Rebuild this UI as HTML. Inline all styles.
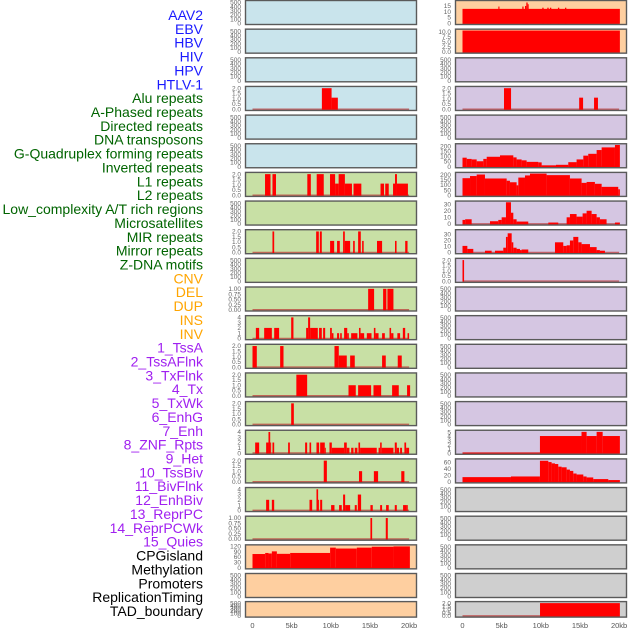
<!DOCTYPE html>
<html><head><meta charset="utf-8"><style>
html,body{margin:0;padding:0;background:#fff;}
svg{display:block;font-family:"Liberation Sans",sans-serif;}
</style></head><body>
<svg id="chart" width="630" height="630" viewBox="0 0 630 630" xmlns="http://www.w3.org/2000/svg">
<g id="labels"></g>
<g id="panels"></g>
<g id="xaxes"></g>
</svg>
<script>
// ---- track labels ----
const labelNames = ["AAV2","EBV","HBV","HIV","HPV","HTLV-1","Alu repeats","A-Phased repeats","Directed repeats","DNA transposons","G-Quadruplex forming repeats","Inverted repeats","L1 repeats","L2 repeats","Low_complexity A/T rich regions","Microsatellites","MIR repeats","Mirror repeats","Z-DNA motifs","CNV","DEL","DUP","INS","INV","1_TssA","2_TssAFlnk","3_TxFlnk","4_Tx","5_TxWk","6_EnhG","7_Enh","8_ZNF_Rpts","9_Het","10_TssBiv","11_BivFlnk","12_EnhBiv","13_ReprPC","14_ReprPCWk","15_Quies","CPGisland","Methylation","Promoters","ReplicationTiming","TAD_boundary"];
const labelGroups = ["v","v","v","v","v","v","r","r","r","r","r","r","r","r","r","r","r","r","r","c","c","c","c","c","h","h","h","h","h","h","h","h","h","h","h","h","h","h","h","o","o","o","o","o"];

// ---- x axis ----
const xTickValues = [0,5,10,15,20];
const xTickLabels = ["0","5kb","10kb","15kb","20kb"];

// ---- left track data: [startKb, endKb, value] ----
const aluLeft = [[8.86,10.1,2],[10.1,10.9,1.1]];
const l1Left = [[1.6,2.3,2],[2.55,3.0,2],[7.0,7.45,2],[8.2,9.1,2],[9.9,10.55,2],[10.55,11.0,1.1],[11.0,11.8,2],[11.8,12.7,1.1],[12.9,13.9,1.1],[16.35,16.8,1.1],[16.95,17.4,1.1],[17.95,18.2,1.1],[18.2,18.45,2],[18.45,19.85,1.1]];
const mirLeft = [[2.55,2.77,2],[8.13,8.47,2],[8.6,8.85,2],[9.91,10.43,1.1],[10.8,11.15,1.1],[11.57,11.79,2],[11.79,12.47,1.1],[12.85,13.06,1.1],[13.49,13.83,2],[14.0,14.2,1.1],[15.9,16.55,1.1],[18.2,18.4,1.1],[19.5,19.8,1.1]];
const delLeft = [[14.77,15.53,1],[16.68,17.1,1],[17.23,18.0,1]];
const insLeft = [[0.43,0.85,2],[1.49,2.47,2],[2.77,3.4,2],[4.94,5.23,4],[6.85,7.1,2],[7.1,7.36,4],[7.36,8.34,2],[8.5,8.85,2],[9.02,9.28,2],[9.91,10.13,2],[10.13,10.34,1],[10.8,11.06,1],[11.2,11.4,1],[11.7,12.1,2],[12.1,12.3,1],[12.6,13.4,1],[13.6,13.8,2],[13.8,14.26,1],[14.6,15.2,1],[15.5,15.7,2],[15.7,16.1,1],[16.55,16.9,1],[17.5,17.7,2],[17.7,18.0,1],[18.5,18.85,1],[19.2,19.5,2],[19.8,20.0,1]];
const tssALeft = [[0,0.55,2],[3.53,3.96,2],[10.47,11.02,2],[11.02,12.04,1.1],[12.47,13.06,1.1],[16.55,17.02,1.1],[18.55,19.06,1.1]];
const tssAFlnkLeft = [[5.6,6.98,2],[12.26,13.19,1],[13.49,15.15,1],[15.45,16.43,1],[17.83,18.68,1],[19.74,20.13,1]];
const txFlnkLeft = [[4.94,5.28,2]];
const txLeft = [[0.34,0.85,2],[1.74,2.04,2],[2.04,2.26,4],[2.26,2.38,2],[2.55,2.77,2],[4.55,4.77,2],[6.72,6.98,2],[7.28,7.49,2],[8.17,8.51,2],[8.64,9.23,2],[9.23,9.36,1],[9.83,10.13,2],[10.13,11.7,1],[11.7,12.04,2],[12.04,12.38,1],[12.6,12.9,1],[13.06,13.4,1],[13.53,13.74,2],[13.74,15.87,1],[16.3,16.5,2],[16.1,16.3,1],[16.5,18.0,1],[18.17,18.43,2],[18.43,18.72,1],[18.85,19.1,1],[19.4,19.62,2],[19.62,20.0,1]];
const txWkLeft = [[9.1,9.5,2],[13.6,14.0,1],[15.5,16.04,1],[19.0,19.4,1]];
const enhGLeft = [[1.74,2.13,2],[2.47,2.77,2],[7.28,7.62,2],[8.17,8.38,4],[8.38,8.5,2],[8.64,8.9,2],[10.04,10.47,1],[11.06,11.4,1],[11.57,11.83,3],[11.83,12.47,1],[13.06,13.32,1],[13.45,13.87,3],[15.06,15.36,1],[16.3,16.55,1],[17.06,17.4,1],[18.17,18.43,1],[19.23,19.62,1],[19.62,19.83,1]];
const enhLeft = [[15.06,15.28,1],[17.02,17.28,1]];
const cpgLeft = [[0,1.62,77],[1.62,2.04,83],[2.04,2.47,80],[2.47,3.11,92],[3.11,4.81,78],[4.81,9.91,83],[9.91,10.64,113],[10.64,13.32,108],[13.32,15.23,113],[15.23,18.0,118],[18.0,20.1,120]];

// ---- right track data ----
const aav2Right = [[0,20.1,12.5],[4.58,4.72,14.5],[7.64,7.8,14.5],[7.98,8.15,15],[8.15,8.32,18],[8.32,8.45,16.5],[10.19,10.36,13.5],[10.83,11.0,13.5],[11.17,11.34,13.5],[12.19,12.36,13.5],[13.09,13.26,13.5]];
const ebvRight = [[0,20.1,10.6]];
const aluRight = [[5.3,6.2,2],[14.9,15.4,1.1],[16.8,17.3,1.1]];
const g4Right = [[0,0.54,87],[0.54,1.17,75],[1.17,1.81,70],[1.81,2.66,52],[2.66,3.09,75],[3.09,4.79,96],[4.79,6.49,110],[6.49,6.91,90],[6.91,7.55,70],[7.55,8.19,61],[8.19,9.68,46],[9.68,10.11,41],[10.11,11.94,12],[11.94,13.51,17],[13.51,14.57,43],[14.57,15.43,70],[15.43,16.06,107],[16.06,17.13,125],[17.13,17.77,162],[17.77,19.47,188],[19.47,20.1,212]];
const l1Right = [[0,0.96,167],[0.96,1.81,188],[1.81,2.87,203],[2.87,5.64,164],[5.64,6.06,142],[6.06,6.91,127],[6.91,7.13,97],[7.13,7.98,173],[7.98,8.62,194],[8.62,10.74,212],[10.74,13.72,197],[13.72,15.21,164],[15.21,15.85,121],[15.85,16.91,130],[16.91,17.77,112],[17.77,19.89,82],[19.89,20.1,58]];
const lowCompRight = [[0,0.34,6],[0.34,1.17,7],[3.51,4.57,4],[4.57,5.0,6],[5.0,5.55,10],[5.55,6.19,33],[6.19,6.49,17],[6.49,6.91,7],[6.91,8.4,3.5],[10.96,12.23,2],[13.3,13.72,10],[13.72,14.57,15],[14.57,15.34,11],[15.34,15.85,16],[15.85,16.49,20],[16.49,17.13,15],[17.13,17.55,10],[17.55,18.4,7],[19.47,20.1,2]];
const microRight = [[0,0.62,11],[0.62,1.38,6],[2.87,3.72,3],[4.15,5.21,3],[5.21,5.55,8],[5.55,5.77,26],[5.77,6.28,32],[6.28,6.49,17],[6.49,6.91,8],[6.91,7.34,6],[7.34,7.55,4],[7.55,8.4,5],[11.81,12.87,17],[12.87,13.3,11],[13.3,13.72,12],[13.72,14.15,20],[14.15,14.79,26],[14.79,15.21,17],[15.21,16.28,14],[16.28,17.13,9],[17.13,17.55,4],[17.55,18.19,3]];
const spikeRight = [[0,0.2,2]];
const znfRight = [[0,9.89,0.1],[9.89,15.2,4.1],[15.2,15.85,5.1],[15.85,17.13,4.1],[17.13,17.9,5.1],[17.9,20.1,4.1]];
const hetRight = [[0,6.19,14],[6.19,9.89,16],[9.89,10.96,64],[10.96,11.38,60],[11.38,11.81,56],[11.81,12.23,54],[12.23,12.66,46],[12.66,13.3,44],[13.3,13.72,37],[13.72,14.15,33],[14.15,14.57,25],[14.57,15.43,22],[15.43,15.85,16],[15.85,16.7,13],[16.7,18.62,8],[18.62,20.1,5]];
const tadRight = [[9.9,20.1,2]];

// ---- axis tick sets ----
const ticksEmpty = [0,100,200,300,400,500];
const ticks2 = [0,0.5,1,1.5,2];
const ticks4 = [0,1,2,3,4];
const ticks1 = [0,0.25,0.5,0.75,1];
const ticksCpg = [0,30,60,90,120];
const ticksAav = [0,5,10,15];
const ticksEbv = [0,2.5,5,7.5,10];
const ticksG4 = [0,50,100,150,200];
const ticksLow = [0,10,20,30];
const ticksZnf = [0,1,2,3,4,5];
const ticksHet = [0,20,40,60];

const E = null;
// left panels: [data, max, ticks, decimals]
const leftPanels = [
 [E,520,ticksEmpty,0],[E,520,ticksEmpty,0],[E,520,ticksEmpty,0],[aluLeft,2.05,ticks2,1],[E,520,ticksEmpty,0],[E,520,ticksEmpty,0],
 [l1Left,2.05,ticks2,1],[E,520,ticksEmpty,0],[mirLeft,2.05,ticks2,1],[E,520,ticksEmpty,0],[delLeft,1.03,ticks1,2],
 [insLeft,4.1,ticks4,0],[tssALeft,2.05,ticks2,1],[tssAFlnkLeft,2.05,ticks2,1],[txFlnkLeft,2.05,ticks2,1],[txLeft,4.1,ticks4,0],
 [txWkLeft,2.05,ticks2,1],[enhGLeft,4.1,ticks4,0],[enhLeft,1.03,ticks1,2],[cpgLeft,122,ticksCpg,0],[E,520,ticksEmpty,0],[E,520,ticksEmpty,0]
];
const rightPanels = [
 [aav2Right,18.7,ticksAav,0],[ebvRight,10.7,ticksEbv,1],[E,520,ticksEmpty,0],[aluRight,2.05,ticks2,1],[E,520,ticksEmpty,0],[g4Right,212,ticksG4,0],
 [l1Right,212,ticksG4,0],[lowCompRight,33,ticksLow,0],[microRight,36,ticksLow,0],[spikeRight,2.05,ticks2,1],[E,520,ticksEmpty,0],
 [E,520,ticksEmpty,0],[E,520,ticksEmpty,0],[E,520,ticksEmpty,0],[E,520,ticksEmpty,0],[znfRight,5.2,ticksZnf,0],
 [hetRight,66,ticksHet,0],[E,520,ticksEmpty,0],[E,520,ticksEmpty,0],[E,520,ticksEmpty,0],[E,520,ticksEmpty,0],[tadRight,2.05,ticks2,1]
];
const leftBg = ["#c9e4ec","#c9e4ec","#c9e4ec","#c9e4ec","#c9e4ec","#c9e4ec","#c8e0a5","#c8e0a5","#c8e0a5","#c8e0a5","#c8e0a5","#c8e0a5","#c8e0a5","#c8e0a5","#c8e0a5","#c8e0a5","#c8e0a5","#c8e0a5","#c8e0a5","#fecfa0","#fecfa0","#fecfa0"];
const rightBg = ["#fecfa0","#fecfa0","#d5c6e2","#d5c6e2","#d5c6e2","#d5c6e2","#d5c6e2","#d5c6e2","#d5c6e2","#d5c6e2","#d5c6e2","#d5c6e2","#d5c6e2","#d5c6e2","#d5c6e2","#d5c6e2","#d5c6e2","#cfcfcf","#cfcfcf","#cfcfcf","#cfcfcf","#cfcfcf"];

const NS = "http://www.w3.org/2000/svg";
function mk(tag, attrs, parent){const e=document.createElementNS(NS,tag);for(const k in attrs)e.setAttribute(k,attrs[k]);parent.appendChild(e);return e;}
const groupColor = {v:"#1a1aff",r:"#006400",c:"#ffa500",h:"#a020f0",o:"#000000"};

const labelsG = document.getElementById("labels");
labelNames.forEach((name,i)=>{
  const t = mk("text",{x:203,y:20+i*13.86,"text-anchor":"end","font-size":"14",fill:groupColor[labelGroups[i]]},labelsG);
  
  
  t.textContent = name;
});

const PANEL = {left:{x0:245.5,x1:416.5,d0:252.5},right:{x0:455.5,x1:626.5,d0:462.5}};
const KBPX = 7.83;
function rowTop(i){return i<21 ? i*28.65+0.5 : 601.6;}
function rowH(i){return i<21 ? 24 : 15.5;}

const panelsG = document.getElementById("panels");
function drawPanel(side, i, cfg, bg){
  const P = PANEL[side];
  const top=rowTop(i), h=rowH(i), bottom=top+h;
  const g = mk("g",{},panelsG);
  
  
  const r = mk("rect",{x:P.x0,y:top,width:P.x1-P.x0,height:h,fill:bg,stroke:"none"},g);
  
  
  const [data,max,ticks,dec] = cfg;
  const y0 = bottom-1.2, yr = h-2.4;
  const yOf = v => y0 - v/max*yr;
  const xOf = kb => P.d0 + kb*KBPX;
  ticks.forEach(tv=>{
    const t = mk("text",{x:P.x0-4.5,y:yOf(tv)+2.2,"text-anchor":"end","font-size":"6.5",fill:"#666"},g);
    
    
    t.textContent = tv.toFixed(dec);
  });
  if(data){
    const bl = mk("line",{x1:xOf(0),x2:xOf(20),y1:y0,y2:y0,stroke:"#b33",
      "stroke-width":1.5,"stroke-opacity":0.7},g);
    
    
    data.forEach(s=>{
      const x=xOf(s[0]), w=(s[1]-s[0])*KBPX, y=yOf(Math.min(s[2],max));
      const b = mk("rect",{x:x,y:y,width:Math.max(w,0.8),height:y0-y+0.6,fill:"#ff0000"},g);
      
      
    });
  }
  const f = mk("rect",{x:P.x0,y:top,width:P.x1-P.x0,height:h,fill:"none",stroke:"#5a5a5a","stroke-width":1.4},g);
  
  
}
leftPanels.forEach((c,i)=>drawPanel("left",i,c,leftBg[i]));
rightPanels.forEach((c,i)=>drawPanel("right",i,c,rightBg[i]));

const xg = document.getElementById("xaxes");
["left","right"].forEach(side=>{
  xTickValues.forEach((v,j)=>{
    const t = mk("text",{x:PANEL[side].d0+v*KBPX,y:628,"text-anchor":"middle","font-size":"7.5",fill:"#555"},xg);
    
    
    t.textContent = xTickLabels[j];
  });
});
</script>
</body></html>
